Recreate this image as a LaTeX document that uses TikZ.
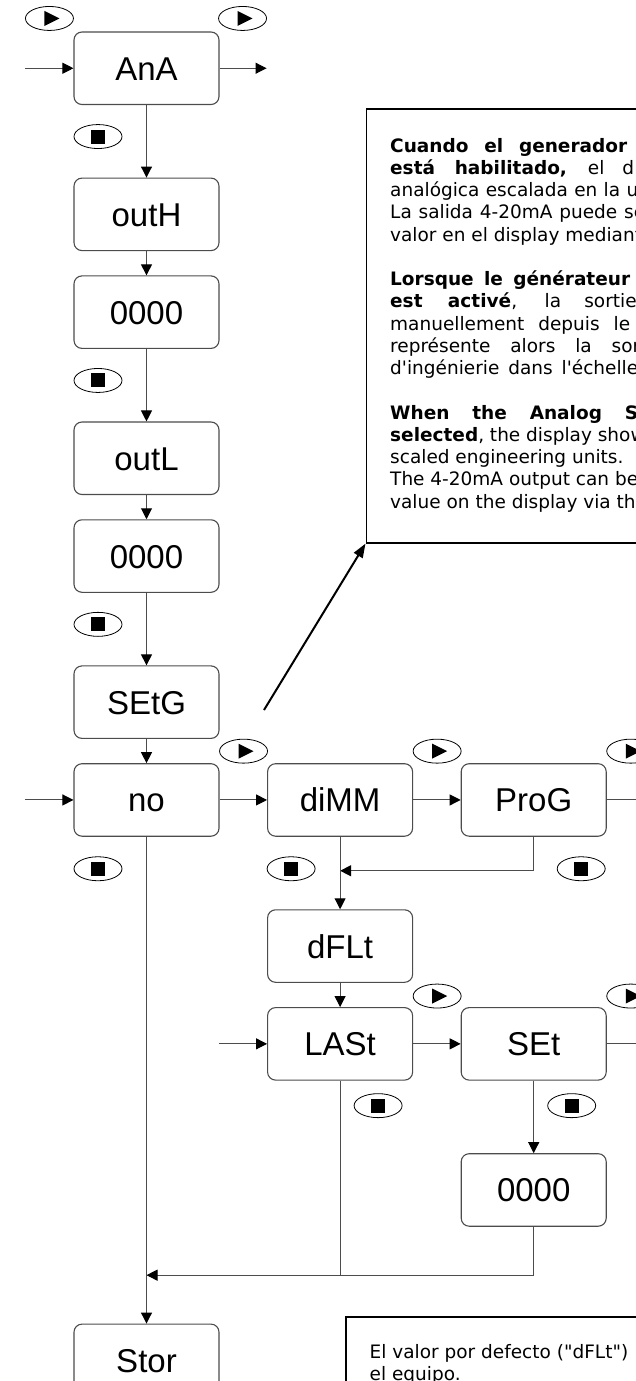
\documentclass[tikz,border=0pt]{standalone}
\usepackage{fontspec}
\setmainfont{Liberation Sans}
\newfontfamily\notefont{DejaVu Sans}
\usetikzlibrary{positioning,calc,shapes.geometric,arrows.meta}

\tikzset{
  disp/.style={draw=black!70, line width=1.1pt, rounded corners=8pt, minimum width=145pt, minimum height=72.5pt,
    inner sep=0pt, font=\fontsize{33}{36}\selectfont, text height=24pt, text depth=0pt},
  keycap/.style={draw, ellipse, line width=0.8pt, minimum width=48pt, minimum height=24pt, inner sep=0pt},
  playkey/.style={keycap, path picture={\fill ($(path picture bounding box.center)+(-5,-7.5)$) -- ++(0,15) -- ++(15,-7.5) -- cycle;}},
  stopkey/.style={keycap, path picture={\fill ($(path picture bounding box.center)+(-7,-7)$) rectangle ++(14,14);}},
  flow/.style={draw=black!70, line width=1pt, -{Triangle[length=11pt, width=11pt, color=black]}},
  link/.style={draw=black!70, line width=1pt},
  callout/.style={draw, line width=2pt, -{Triangle[length=14pt, width=10pt]}},
  note/.style={draw, line width=1.6pt, anchor=north west, inner sep=0pt},
  notetext/.style={anchor=base west, inner sep=0pt, font=\notefont\fontsize{18.5}{22.25}\selectfont},
}

\begin{document}
\begin{tikzpicture}[x=1pt, y=-1pt]
  \def\dl{72.5pt}
  \def\ds{24.2pt}
  \def\dx{47.5pt}
  \useasboundingbox (0,0) rectangle (636,1381);
  \clip (0,0) rectangle (636,1381);

  % left column
  \node[disp] (ana) at (146.5,68.25) {AnA};
  \node[disp, below=\dl of ana] (outh) {outH};
  \node[disp, below=\ds of outh] (outhval) {0000};
  \node[disp, below=\dl of outhval] (outl) {outL};
  \node[disp, below=\ds of outl] (outlval) {0000};
  \node[disp, below=\dl of outlval] (setg) {SEtG};
  \node[disp, below=\ds of setg] (no) {no};

  % generator options
  \node[disp, right=\dx of no] (dimm) {diMM};
  \node[disp, right=\dx of dimm] (prog) {ProG};
  \node[disp, below=\dl of dimm] (dflt) {dFLt};
  \node[disp, below=\ds of dflt] (last) {LASt};
  \node[disp, right=\dx of last] (set) {SEt};
  \node[disp, below=\dl of set] (setval) {0000};
  \coordinate (merge) at ($(setval.south)+(0,48.4)$);
  \node[disp, anchor=north] (stor) at ($(merge -| no.south)+(0,48.4)$) {Stor};

  % keys
  \node[playkey] (kana) at ($(ana.north west)+(-24,-13)$) {};
  \node[playkey] (kanar) at ($(ana.north east)+(23,-13)$) {};
  \node[stopkey] (sana) at ($(ana.south)+(-48.5,31.5)$) {};
  \node[stopkey] (south) at ($(outhval.south)+(-48.5,31.5)$) {};
  \node[stopkey] (soutl) at ($(outlval.south)+(-48.5,31.5)$) {};
  \node[playkey] (kno) at ($(no.north east)+(24,-12)$) {};
  \node[playkey] (kdimm) at ($(dimm.north east)+(24,-12)$) {};
  \node[playkey] (kprog) at ($(prog.north east)+(24,-12)$) {};
  \node[stopkey] (sno) at ($(no.south)+(-48.5,32)$) {};
  \node[stopkey] (sdimm) at ($(dimm.south)+(-49,32)$) {};
  \node[stopkey] (sprog) at ($(prog.south)+(47.5,32)$) {};
  \node[playkey] (klast) at ($(last.north east)+(24,-11)$) {};
  \node[playkey] (kset) at ($(set.north east)+(24,-11)$) {};
  \node[stopkey] (slast) at ($(last.south)+(38,25)$) {};
  \node[stopkey] (sset) at ($(set.south)+(38,25)$) {};

  % connectors
  \coordinate (anain) at ($(ana.west)+(-48,0)$);
  \coordinate (anaout) at ($(ana.east)+(47,0)$);
  \draw[flow] (anain) -- (ana);
  \draw[flow] (ana) -- (anaout);
  \draw[flow] (ana) -- (outh);
  \draw[flow] (outh) -- (outhval);
  \draw[flow] (outhval) -- (outl);
  \draw[flow] (outl) -- (outlval);
  \draw[flow] (outlval) -- (setg);
  \draw[flow] (setg) -- (no);

  \coordinate (noin) at ($(no.west)+(-48,0)$);
  \coordinate (progout) at ($(prog.east)+(60,0)$);
  \coordinate (progback) at ($(prog.south)+(0,34)$);
  \draw[flow] (noin) -- (no);
  \draw[flow] (no) -- (dimm);
  \draw[flow] (dimm) -- (prog);
  \draw[link] (prog) -- (progout);
  \draw[flow] (prog.south) -- (progback) -- (progback -| dimm.south);
  \draw[flow] (dimm) -- (dflt);
  \draw[flow] (dflt) -- (last);

  \coordinate (lastin) at ($(last.west)+(-48,0)$);
  \coordinate (setout) at ($(set.east)+(60,0)$);
  \draw[flow] (lastin) -- (last);
  \draw[flow] (last) -- (set);
  \draw[link] (set) -- (setout);
  \draw[flow] (set) -- (setval);
  \draw[flow] (setval.south) -- (merge) -- (merge -| no.south);
  \draw[link] (last.south) -- (last.south |- merge);
  \draw[flow] (no) -- (stor);

  % notes
  \node[note, minimum width=420pt, minimum height=434pt] (info) at (365.5,108) {};
  \node[notetext] (infotxt) at ($(info.north west)+(24.5,44)$) {\parbox[t]{420pt}{%
    \makebox[237pt][s]{\textbf{Cuando el generador}}\\
    \makebox[244pt][s]{\textbf{está habilitado,} el d}\\
    \makebox[248pt][s]{analógica escalada en la u}\\
    \makebox[255pt][s]{La salida 4-20mA puede se}\\
    valor en el display mediant\\[22.25pt]
    \makebox[240pt][s]{\textbf{Lorsque le générateur}}\\
    \makebox[246.5pt][s]{\textbf{est activé}, la sortie}\\
    \makebox[240pt][s]{manuellement depuis le}\\
    \makebox[250pt][s]{représente alors la sor}\\
    \makebox[248pt][s]{d\textquotesingle ingénierie dans l\textquotesingle échelle}\\[22.25pt]
    \makebox[248pt][s]{\textbf{When the Analog S}}\\
    \textbf{selected}, the display show\\
    scaled engineering units.\\
    The 4-20mA output can be\\
    value on the display via th}};
  \coordinate (diagstart) at (264,710);
  \draw[callout] (diagstart) -- (info.south west);

  \node[note, minimum width=400pt, minimum height=120pt] (dfltnote) at (345,1316) {};
  \node[notetext] (dflttxt) at ($(dfltnote.north west)+(24.5,42)$) {\parbox[t]{400pt}{%
    El valor por defecto ("dFLt")\\
    el equipo.}};
\end{tikzpicture}
\end{document}
